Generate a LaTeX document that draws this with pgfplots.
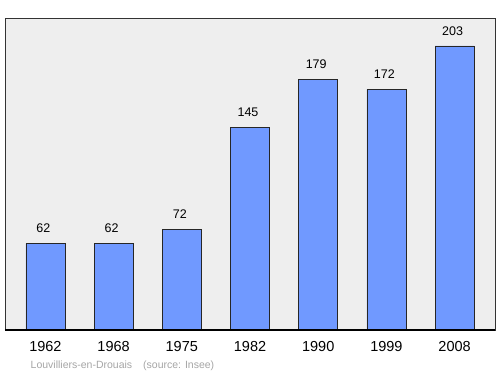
\documentclass[border=0pt]{standalone}
\usepackage{pgfplots}
\pgfplotsset{compat=1.18}
\usepackage{fontspec}
\setmainfont{Liberation Sans}
\definecolor{barfill}{HTML}{7099FF}
\definecolor{bg}{HTML}{EEEEEE}
\begin{document}
\begin{tikzpicture}[x=1pt,y=1pt]
\useasboundingbox (0,0) rectangle (500,374);
\fill[white] (0,0) rectangle (500,374);
\begin{axis}[
  at={(5pt,44pt)}, anchor=south west,
  scale only axis, width=490pt, height=312pt,
  xmin=-0.593, xmax=6.593, ymin=0, ymax=223,
  axis background/.style={fill=bg},
  axis line style={draw=black!80, line width=0.8pt},
  ytick=\empty,
  xtick=data,
  xticklabels={1962,1968,1975,1982,1990,1999,2008},
  xtick style={draw=none},
  xticklabel style={font=\fontsize{14.5}{16}\selectfont, yshift=-8pt},
  /pgf/number format/assume math mode=true,
  nodes near coords,
  every node near coord/.append style={font=\fontsize{12.5}{14}\selectfont, black, yshift=7pt, xshift=-2pt},
  clip=false,
]
\addplot[ybar, bar width=39pt, fill=barfill, draw=black!85, line width=0.7pt] coordinates {
(0,62) (1,62) (2,72) (3,145) (4,179) (5,172) (6,203)};
\draw[black, line width=1.6pt] (rel axis cs:0,0) -- (rel axis cs:1,0);
\end{axis}
\node[anchor=base west, text=black!35, font=\fontsize{10.5}{12}\selectfont, inner sep=0pt] at (30.5,5) {Louvilliers-en-Drouais\hspace{11pt}(source: Insee)};
\end{tikzpicture}
\end{document}
